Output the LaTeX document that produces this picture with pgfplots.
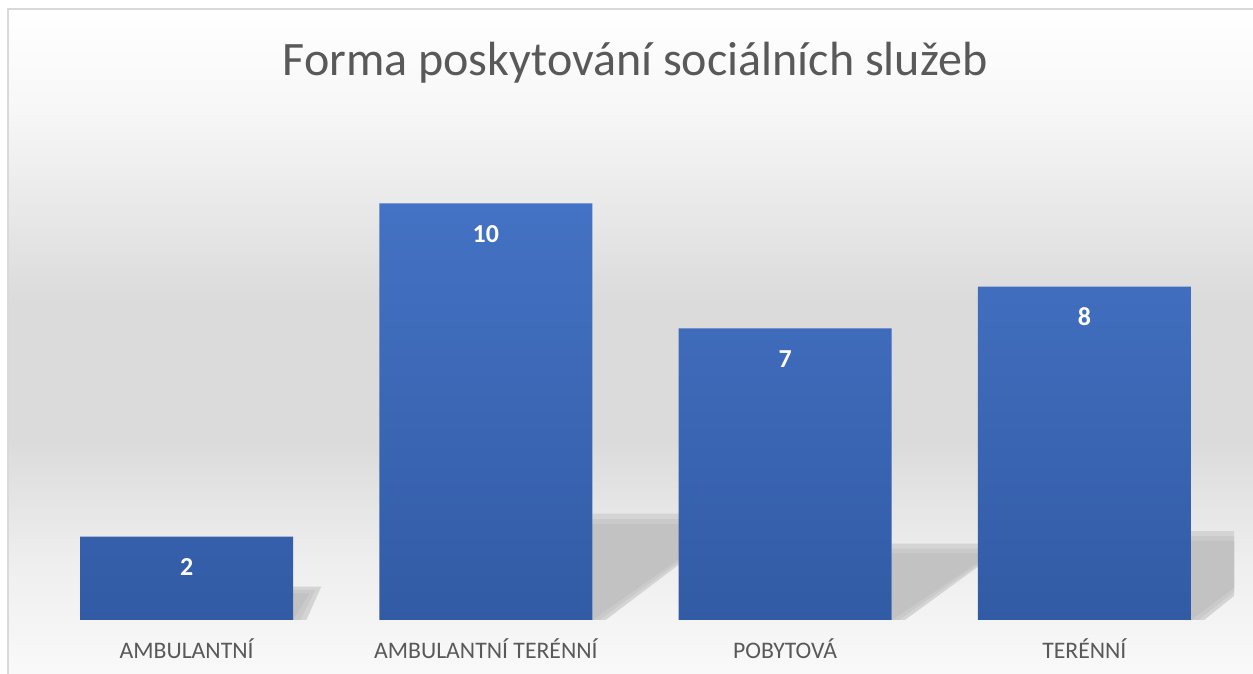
\documentclass[border=0pt]{standalone}
\usepackage{fontspec}
\setmainfont{Carlito}
\usepackage{pgfplots}
\pgfplotsset{compat=1.18}
\definecolor{barTop}{HTML}{4472C4}
\definecolor{barBot}{HTML}{325BA5}
\definecolor{txt}{HTML}{595959}
\definecolor{shadowc}{HTML}{C2C2C2}
\definecolor{shadowm}{HTML}{CACACA}
\definecolor{shadowl}{HTML}{D4D4D4}
\definecolor{framec}{HTML}{D9D9D9}
\definecolor{ga}{HTML}{F7F7F7}
\definecolor{gb}{HTML}{DBDBDB}
\definecolor{gc}{HTML}{EEEEEE}
\definecolor{gd}{HTML}{FAFAFA}
\begin{document}
\begin{tikzpicture}
\useasboundingbox (0bp,0bp) rectangle (1253bp,674bp);
\fill[white] (0bp,0bp) rectangle (1253bp,674bp);
\shade[top color=white, bottom color=ga] (7bp,563.5bp) rectangle (1260bp,666bp);
\shade[top color=ga, bottom color=gb] (7bp,373.5bp) rectangle (1260bp,564bp);
\fill[gb] (7bp,233.5bp) rectangle (1260bp,374bp);
\shade[top color=gb, bottom color=gc] (7bp,113.5bp) rectangle (1260bp,234bp);
\shade[top color=gc, bottom color=gd] (7bp,-5bp) rectangle (1260bp,114bp);
\draw[framec, line width=2bp] (8bp,-10bp) -- (8bp,665.3bp) -- (1270bp,665.3bp);
\node[text=txt, font=\fontsize{48.2}{56}\selectfont, anchor=base] at (635bp,598bp) {Forma poskytování sociálních služeb};
\begin{axis}[
  at={(37bp,54bp)}, anchor=south west, scale only axis,
  width=1197bp, height=500bp,
  xmin=-0.5, xmax=3.5, ymin=0, ymax=12,
  ybar, bar width=0.712,
  axis line style={draw=none},
  ytick=\empty,
  xtick={0,1,2,3},
  xticklabels={AMBULANTNÍ, AMBULANTNÍ TERÉNNÍ, POBYTOVÁ, TERÉNNÍ},
  major tick length=0pt,
  xticklabel style={font=\fontsize{23.8}{28}\selectfont, text=txt, anchor=base, yshift=-38bp},
  nodes near coords,
  /pgf/number format/assume math mode=true,
  every node near coord/.append style={font=\bfseries\fontsize{26}{30}\selectfont, text=white, anchor=base, yshift=-39bp},
]
% soft perspective shadows (three layers approximate the blur)
\fill[shadowl] (axis cs:0.356,0) -- (axis cs:0.356,0.80) -- (axis cs:0.45,0.80) -- (axis cs:0.40,0) -- cycle;
\fill[shadowm] (axis cs:0.356,0) -- (axis cs:0.356,0.72) -- (axis cs:0.43,0.72) -- (axis cs:0.38,0) -- cycle;
\fill[shadowc] (axis cs:0.356,0) -- (axis cs:0.356,0.64) -- (axis cs:0.41,0.64) -- cycle;
\fill[shadowl] (axis cs:1.356,0) -- (axis cs:1.356,2.55) -- (axis cs:1.87,2.55) -- (axis cs:1.40,0) -- cycle;
\fill[shadowm] (axis cs:1.356,0) -- (axis cs:1.356,2.42) -- (axis cs:1.84,2.42) -- (axis cs:1.38,0) -- cycle;
\fill[shadowc] (axis cs:1.356,0) -- (axis cs:1.356,2.3) -- (axis cs:1.81,2.3) -- cycle;
\fill[shadowl] (axis cs:2.356,0) -- (axis cs:2.356,1.83) -- (axis cs:2.75,1.83) -- (axis cs:2.40,0) -- cycle;
\fill[shadowm] (axis cs:2.356,0) -- (axis cs:2.356,1.71) -- (axis cs:2.72,1.71) -- (axis cs:2.38,0) -- cycle;
\fill[shadowc] (axis cs:2.356,0) -- (axis cs:2.356,1.6) -- (axis cs:2.69,1.6) -- cycle;
\fill[shadowl] (axis cs:3.356,0) -- (axis cs:3.356,2.13) -- (axis cs:3.77,2.13) -- (axis cs:3.40,0) -- cycle;
\fill[shadowm] (axis cs:3.356,0) -- (axis cs:3.356,2.01) -- (axis cs:3.74,2.01) -- (axis cs:3.38,0) -- cycle;
\fill[shadowc] (axis cs:3.356,0) -- (axis cs:3.356,1.9) -- (axis cs:3.71,1.9) -- cycle;
\addplot[draw=none, top color=barTop, bottom color=barBot] coordinates {(0,2) (1,10) (2,7) (3,8)};
\end{axis}
\end{tikzpicture}
\end{document}
